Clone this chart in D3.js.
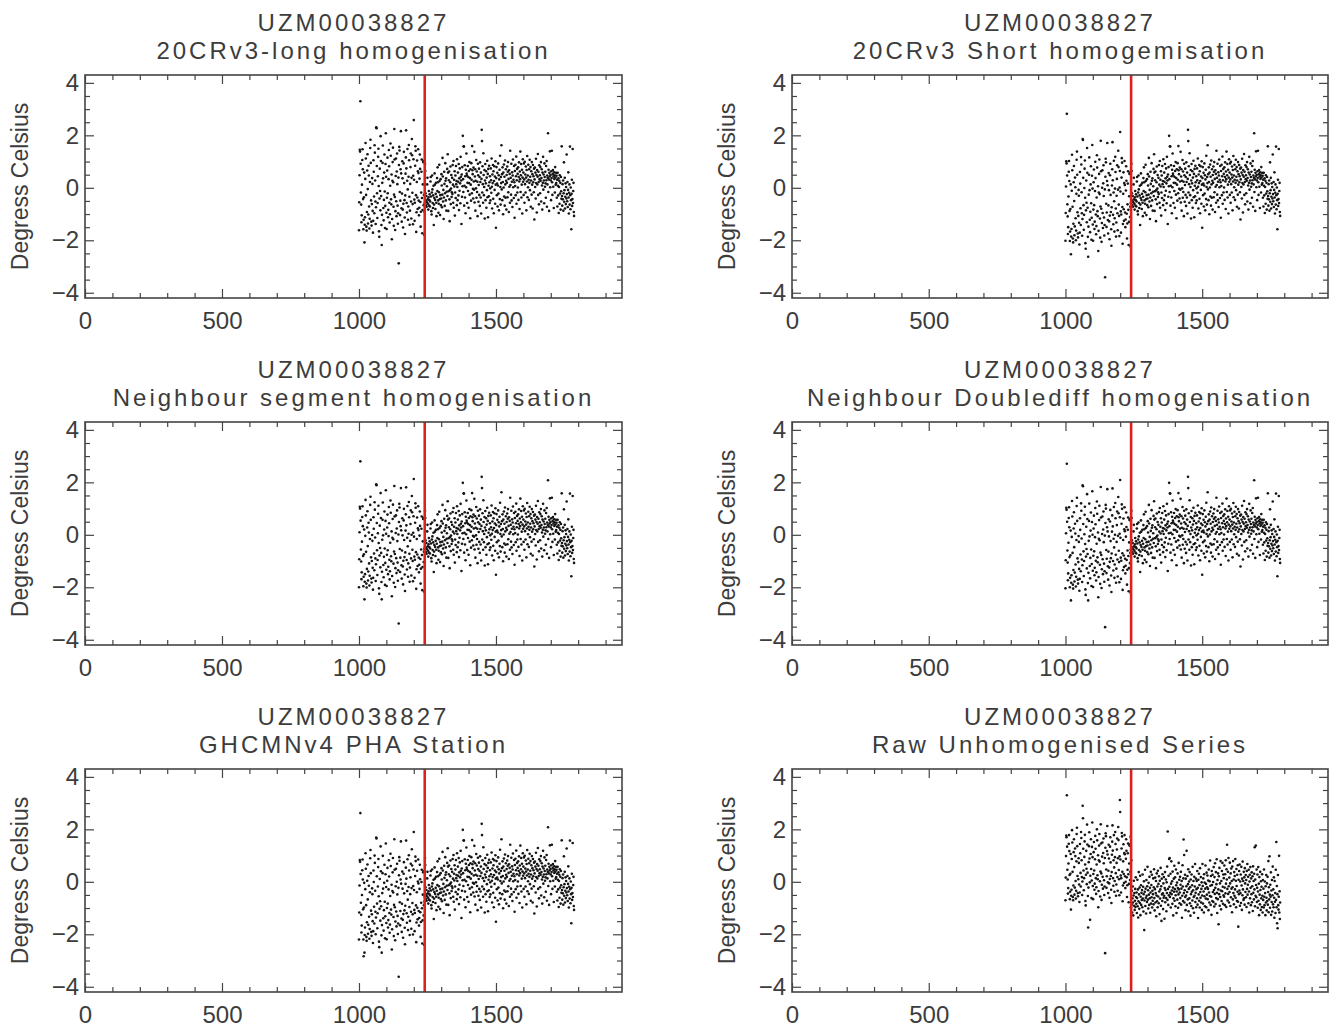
<!DOCTYPE html>
<html>
<head>
<meta charset="utf-8">
<script src="https://cdn.jsdelivr.net/npm/d3@7"></script>
<style>
  html, body { margin: 0; padding: 0; background: #fff; }
  svg text { font-family: "Liberation Sans", Arial, Helvetica, sans-serif; fill: #3c3c3c; }
</style>
</head>
<body>
<svg id="chart" width="1331" height="1029"></svg>
<script>
// Station and panel titles
const stationId = "UZM00038827";
const panelTitles = [
  "20CRv3-long homogenisation",
  "20CRv3 Short homogemisation",
  "Neighbour segment homogenisation",
  "Neighbour Doublediff homogenisation",
  "GHCMNv4 PHA Station",
  "Raw Unhomogenised Series"
];
const yAxisTitle = "Degress Celsius";

// Axis ticks
const xTickValues = [0, 500, 1000, 1500];
const xMinorStep = 100;
const yTickValues = [-4, -2, 0, 2, 4];
const yMinorStep = 0.5;

// Month index of the first value and of the detected break
const firstMonth = 1000;
const breakMonth = 1240;

// Monthly anomalies (degrees C) before the break, months 1000-1239
const longEarly = [
  -1.62,-0.55,0.48,1.45,1.38,3.30,0.92,-0.18,-0.64,-1.31,-1.05,0.12,1.06,1.47,0.71,-0.43,-1.58,-1.22,-0.36,0.58,
  -2.08,-1.41,-1.12,0.34,1.71,1.12,-0.27,-1.48,-1.63,-0.92,0.66,1.28,-0.05,-1.36,-1.02,0.84,0.47,-0.71,-1.55,-1.18,
  0.22,1.52,1.83,0.95,-0.48,-1.29,-1.44,-0.62,0.37,0.15,-0.88,-1.71,-1.26,1.05,0.61,-0.33,-0.97,1.62,1.34,0.28,
  -0.52,-1.38,-0.74,2.31,2.27,0.83,-0.21,-1.15,-0.58,0.44,1.18,1.49,0.07,-1.66,-1.87,-0.41,0.73,-0.12,-0.86,1.97,
  1.02,-0.31,-1.42,-2.18,-1.03,0.19,0.95,1.61,0.36,-0.77,-1.24,-0.46,0.58,1.27,-0.14,-1.53,-0.69,0.91,2.08,0.42,
  -0.95,-1.57,-0.38,0.66,1.15,-0.21,-1.12,-0.84,0.33,1.44,0.82,-0.57,-1.32,-1.01,0.08,1.69,1.22,-0.44,-0.63,0.51,
  -1.96,-1.19,0.27,0.98,1.53,0.21,-0.72,-1.45,-0.26,2.24,1.08,-0.35,-1.61,-0.89,0.45,1.12,-0.51,-1.08,0.62,1.31,
  0.14,-0.68,-1.37,-0.97,0.39,-2.88,0.87,1.56,1.42,-0.16,-1.04,-0.49,0.71,2.16,0.55,-0.78,-1.29,-0.22,1.01,0.36,
  -0.83,-1.51,-0.61,0.93,1.37,0.18,-0.47,-1.13,-1.76,-0.29,0.54,1.16,2.19,0.74,-0.58,-0.94,0.27,1.48,-0.06,-1.22,
  -0.71,0.42,1.63,1.05,-0.34,-1.41,-0.87,0.15,0.79,1.31,-0.52,-1.17,0.38,1.86,1.24,-0.19,-0.62,-1.39,0.46,1.09,
  2.58,0.31,-0.45,-1.26,-0.57,0.84,1.58,1.41,-0.28,-1.68,-0.93,0.22,1.04,-0.37,-0.81,0.63,1.47,0.56,-0.49,-1.05,
  -0.76,0.35,1.27,0.72,-0.54,-1.48,-0.91,-0.18,0.61,1.08,-0.39,-1.73,-0.85,0.13,0.98,1.02,-0.66,-0.27,-1.79,-0.92
];
const shortEarly = [
  -2.02,-0.96,0.05,1.01,0.93,2.82,0.47,-0.63,-1.09,-1.76,-1.50,-0.33,0.61,1.02,0.26,-0.88,-2.03,-1.67,-0.81,0.13,
  -2.53,-1.86,-1.57,-0.11,1.26,0.67,-0.72,-1.93,-2.08,-1.37,0.21,0.83,-0.50,-1.81,-1.47,0.39,0.02,-1.16,-2.00,-1.63,
  -0.23,1.07,1.38,0.50,-0.93,-1.74,-1.89,-1.07,-0.08,-0.30,-1.33,-2.16,-1.71,0.60,0.16,-0.78,-1.42,1.17,0.89,-0.17,
  -0.97,-1.83,-1.19,1.86,1.82,0.38,-0.66,-1.60,-1.03,-0.01,0.73,1.04,-0.38,-2.11,-2.32,-0.86,0.28,-0.57,-1.31,1.52,
  0.57,-0.76,-1.87,-2.63,-1.48,-0.26,0.50,1.16,-0.09,-1.22,-1.69,-0.91,0.13,0.82,-0.59,-1.98,-1.14,0.46,1.63,-0.03,
  -1.40,-2.02,-0.83,0.21,0.70,-0.66,-1.57,-1.29,-0.12,0.99,0.37,-1.02,-1.77,-1.46,-0.37,1.24,0.77,-0.89,-1.08,0.06,
  -2.41,-1.64,-0.18,0.53,1.08,-0.24,-1.17,-1.90,-0.71,1.79,0.63,-0.80,-2.06,-1.34,0.00,0.67,-0.96,-1.53,0.17,0.86,
  -0.31,-1.13,-1.82,-1.42,-0.06,-3.41,0.42,1.11,0.97,-0.61,-1.49,-0.94,0.26,1.71,0.10,-1.23,-1.74,-0.67,0.56,-0.09,
  -1.28,-1.96,-1.06,0.48,0.92,-0.27,-0.92,-1.58,-2.21,-0.74,0.09,0.71,1.74,0.29,-1.03,-1.39,-0.18,1.03,-0.51,-1.67,
  -1.16,-0.03,1.18,0.60,-0.79,-1.86,-1.32,-0.30,0.34,0.86,-0.97,-1.62,-0.07,1.41,0.79,-0.64,-1.07,-1.84,0.01,0.64,
  2.13,-0.14,-0.90,-1.71,-1.02,0.39,1.13,0.96,-0.73,-2.13,-1.38,-0.23,0.59,-0.82,-1.26,0.18,1.02,0.11,-0.94,-1.50,
  -1.21,-0.10,0.82,0.27,-0.99,-1.93,-1.36,-0.63,0.16,0.63,-0.84,-2.18,-1.30,-0.32,0.53,0.57,-1.11,-0.72,-2.24,-0.58
];
const segmentEarly = [
  -2.00,-0.93,0.10,1.07,1.00,2.80,0.54,-0.56,-1.02,-1.69,-1.43,-0.26,0.68,1.09,0.33,-0.81,-1.96,-1.60,-0.74,0.20,
  -2.46,-1.79,-1.50,-0.04,1.33,0.74,-0.65,-1.86,-2.01,-1.30,0.28,0.90,-0.43,-1.74,-1.40,0.46,0.09,-1.09,-1.93,-1.56,
  -0.16,1.14,1.45,0.57,-0.86,-1.67,-1.82,-1.00,-0.01,-0.23,-1.26,-2.09,-1.64,0.67,0.23,-0.71,-1.35,1.24,0.96,-0.10,
  -0.90,-1.76,-1.12,1.93,1.89,0.45,-0.59,-1.53,-0.96,0.06,0.80,1.11,-0.31,-2.04,-2.25,-0.79,0.35,-0.50,-1.24,1.59,
  0.64,-0.69,-1.80,-2.46,-1.41,-0.19,0.57,1.23,-0.02,-1.15,-1.62,-0.84,0.20,0.89,-0.52,-1.91,-1.07,0.53,1.70,0.04,
  -1.33,-1.95,-0.76,0.28,0.77,-0.59,-1.50,-1.22,-0.05,1.06,0.44,-0.95,-1.70,-1.39,-0.30,1.31,0.84,-0.82,-1.01,0.13,
  -2.34,-1.57,-0.11,0.60,1.15,-0.17,-1.10,-1.83,-0.64,1.86,0.70,-0.73,-1.99,-1.27,0.07,0.74,-0.89,-1.46,0.24,0.93,
  -0.24,-1.06,-1.75,-1.35,0.01,-3.38,0.49,1.18,1.04,-0.54,-1.42,-0.87,0.33,1.78,0.17,-1.16,-1.67,-0.60,0.63,-0.02,
  -1.21,-1.89,-0.99,0.55,0.99,-0.20,-0.85,-1.51,-2.14,-0.67,0.16,0.78,1.81,0.36,-0.96,-1.32,-0.11,1.10,-0.44,-1.60,
  -1.09,0.04,1.25,0.67,-0.72,-1.79,-1.25,-0.23,0.41,0.93,-0.90,-1.55,0.00,1.48,0.86,-0.57,-1.00,-1.77,0.08,0.71,
  2.13,-0.07,-0.83,-1.64,-0.95,0.46,1.20,1.03,-0.66,-2.06,-1.31,-0.16,0.66,-0.75,-1.19,0.25,1.09,0.18,-0.87,-1.43,
  -1.14,-0.03,0.89,0.34,-0.92,-1.86,-1.29,-0.56,0.23,0.70,-0.77,-2.11,-1.23,-0.25,0.60,0.64,-1.04,-0.65,-2.17,-0.51
];
const doublediffEarly = [
  -2.04,-0.97,0.06,1.03,0.96,2.71,0.50,-0.60,-1.06,-1.73,-1.47,-0.30,0.64,1.05,0.29,-0.85,-2.00,-1.64,-0.78,0.16,
  -2.50,-1.83,-1.54,-0.08,1.29,0.70,-0.69,-1.90,-2.05,-1.34,0.24,0.86,-0.47,-1.78,-1.44,0.42,0.05,-1.13,-1.97,-1.60,
  -0.20,1.10,1.41,0.53,-0.90,-1.71,-1.86,-1.04,-0.05,-0.27,-1.30,-2.13,-1.68,0.63,0.19,-0.75,-1.39,1.20,0.92,-0.14,
  -0.94,-1.80,-1.16,1.89,1.85,0.41,-0.63,-1.57,-1.00,0.02,0.76,1.07,-0.35,-2.08,-2.29,-0.83,0.31,-0.54,-1.28,1.55,
  0.60,-0.73,-1.84,-2.50,-1.45,-0.23,0.53,1.19,-0.06,-1.19,-1.66,-0.88,0.16,0.85,-0.56,-1.95,-1.11,0.49,1.66,0.00,
  -1.37,-1.99,-0.80,0.24,0.73,-0.63,-1.54,-1.26,-0.09,1.02,0.40,-0.99,-1.74,-1.43,-0.34,1.27,0.80,-0.86,-1.05,0.09,
  -2.38,-1.61,-0.15,0.56,1.11,-0.21,-1.14,-1.87,-0.68,1.82,0.66,-0.77,-2.03,-1.31,0.03,0.70,-0.93,-1.50,0.20,0.89,
  -0.28,-1.10,-1.79,-1.39,-0.03,-3.52,0.45,1.14,1.00,-0.58,-1.46,-0.91,0.29,1.74,0.13,-1.20,-1.71,-0.64,0.59,-0.06,
  -1.25,-1.93,-1.03,0.51,0.95,-0.24,-0.89,-1.55,-2.18,-0.71,0.12,0.74,1.77,0.32,-1.00,-1.36,-0.15,1.06,-0.48,-1.64,
  -1.13,0.00,1.21,0.63,-0.76,-1.83,-1.29,-0.27,0.37,0.89,-0.94,-1.59,-0.04,1.44,0.82,-0.61,-1.04,-1.81,0.04,0.67,
  2.09,-0.11,-0.87,-1.68,-0.99,0.42,1.16,0.99,-0.70,-2.10,-1.35,-0.20,0.62,-0.79,-1.23,0.21,1.05,0.14,-0.91,-1.47,
  -1.18,-0.07,0.85,0.30,-0.96,-1.90,-1.33,-0.60,0.19,0.66,-0.81,-2.15,-1.27,-0.29,0.56,0.60,-1.08,-0.69,-2.21,-0.55
];
const ghcnEarly = [
  -2.20,-1.17,-0.14,0.83,0.76,2.62,0.30,-0.80,-1.26,-1.93,-1.67,-0.50,0.44,0.85,0.09,-1.05,-2.20,-2.84,-0.98,-0.04,
  -2.70,-2.03,-1.74,-0.28,1.09,0.50,-0.89,-2.10,-2.25,-1.54,0.04,0.66,-0.67,-1.98,-1.64,0.22,-0.15,-1.33,-2.17,-1.80,
  -0.40,0.90,1.21,0.33,-1.10,-1.91,-2.06,-1.24,-0.25,-0.47,-1.50,-2.33,-1.88,0.43,-0.01,-0.95,-1.59,1.00,0.72,-0.34,
  -1.14,-2.00,-1.36,1.69,1.65,0.21,-0.83,-1.77,-1.20,-0.18,0.56,0.87,-0.55,-2.28,-2.49,-1.03,0.11,-0.74,-1.48,1.35,
  0.40,-0.93,-2.04,-2.70,-1.65,-0.43,0.33,0.99,-0.26,-1.39,-1.86,-1.08,-0.04,0.65,-0.76,-2.15,-1.31,0.29,1.46,-0.20,
  -1.57,-2.19,-1.00,0.04,0.53,-0.83,-1.74,-1.46,-0.29,0.82,0.20,-1.19,-1.94,-1.63,-0.54,1.07,0.60,-1.06,-1.25,-0.11,
  -2.58,-1.81,-0.35,0.36,0.91,-0.41,-1.34,-2.07,-0.88,1.62,0.46,-0.97,-2.23,-1.51,-0.17,0.50,-1.13,-1.70,0.00,0.69,
  -0.48,-1.30,-1.99,-1.59,-0.23,-3.62,0.25,0.94,0.80,-0.78,-1.66,-1.11,0.09,1.54,-0.07,-1.40,-1.91,-0.84,0.39,-0.26,
  -1.45,-2.13,-1.23,0.31,0.75,-0.44,-1.09,-1.75,-2.38,-0.91,-0.08,0.54,1.57,0.12,-1.20,-1.56,-0.35,0.86,-0.68,-1.84,
  -1.33,-0.20,1.01,0.43,-0.96,-2.03,-1.49,-0.47,0.17,0.69,-1.14,-1.79,-0.24,1.24,0.62,-0.81,-1.24,-2.01,-0.16,0.47,
  1.90,-0.31,-1.07,-1.88,-1.19,0.22,0.96,0.79,-0.90,-2.30,-1.55,-0.40,0.42,-0.99,-1.43,0.01,0.85,-0.06,-1.11,-1.67,
  -1.38,-0.27,0.65,0.10,-1.16,-2.10,-1.53,-0.80,-0.01,0.46,-1.01,-2.35,-1.47,-0.49,0.36,0.40,-1.28,-0.89,-2.41,-0.75
];
const rawEarly = [
  -0.70,0.16,0.98,1.76,1.70,3.30,1.34,0.46,0.09,-0.45,-0.24,0.70,1.45,1.78,1.17,0.26,-0.66,-0.38,0.31,1.06,
  -1.06,-0.53,-0.30,0.87,1.97,1.50,0.38,-0.58,-0.70,-0.14,1.13,1.62,0.56,-0.49,-0.22,1.27,0.98,0.03,-0.64,-0.34,
  0.78,1.82,2.06,1.36,0.22,-0.43,-0.55,0.10,0.90,0.72,-0.10,-0.77,-0.41,1.44,1.09,0.34,-0.18,1.90,1.67,0.82,
  0.18,-0.50,0.01,2.90,2.42,1.26,0.43,-0.32,0.14,0.95,1.54,1.79,0.66,-0.73,-0.90,0.27,1.18,0.50,-0.09,2.18,
  1.42,0.35,-0.54,-1.74,-0.22,0.75,1.36,1.89,0.89,-0.02,-1.45,0.23,1.06,1.62,0.49,-0.62,0.05,1.33,2.26,0.94,
  -0.16,-0.66,0.30,1.13,1.52,0.43,-0.30,-0.07,0.86,1.75,1.26,0.14,-0.46,-0.21,0.66,2.00,1.58,0.25,0.10,1.01,
  -0.97,-0.35,0.82,1.38,1.82,0.77,0.02,-0.56,0.39,2.19,1.46,0.32,-0.69,-0.11,0.96,1.50,0.19,-0.26,1.10,1.65,
  0.71,0.06,-0.50,-0.18,0.91,-2.72,1.30,1.85,1.74,0.47,-0.23,0.21,1.17,2.13,1.04,-0.02,-0.43,0.42,1.41,0.89,
  -0.06,-0.61,0.11,1.34,1.70,0.74,0.22,-0.30,-0.81,0.37,1.03,1.53,2.15,1.19,0.14,-0.15,0.82,1.78,0.55,-0.38,
  0.03,0.94,1.90,1.44,0.33,-0.53,-0.10,0.72,1.23,1.65,0.18,-0.34,0.90,2.09,1.59,0.45,0.10,-0.51,0.97,3.12,
  2.66,0.85,0.24,-0.41,0.14,1.27,1.86,1.73,0.38,-0.74,-0.14,0.78,1.43,0.30,-0.05,1.10,1.78,1.05,0.21,-0.24,
  0.00,0.88,1.62,1.18,0.17,-0.58,-0.13,0.46,1.09,1.46,0.29,-0.78,-0.08,0.70,1.38,1.42,0.07,0.38,1.72,-0.98
];

// Monthly anomalies (degrees C) from the break onwards, months 1240-1785.
// The five homogenised series agree after the break.
const homogenisedLate = [
  -0.58,0.92,0.64,-0.21,-0.66,-0.49,-0.31,-0.72,-0.55,0.13,0.38,-0.44,-0.61,-0.83,-0.36,-0.12,-0.68,-0.47,-0.25,-0.71,
  -0.52,0.24,0.41,-0.33,-0.89,-1.02,-0.18,0.47,-0.06,-0.58,-0.77,-0.29,0.08,-1.42,-0.64,-0.39,0.55,0.12,-0.46,-0.81,
  -0.23,0.19,-0.57,-1.08,-0.34,0.37,-0.12,0.78,0.21,-0.48,-0.95,-0.61,-0.17,0.88,0.26,-0.43,-1.04,-0.28,0.33,-0.66,
  -0.41,0.52,0.09,-0.74,-0.26,1.14,0.43,-0.52,-0.08,-1.19,-0.37,0.61,0.15,-0.69,-0.21,0.94,0.27,-0.48,0.36,-0.87,
  -0.15,0.06,0.72,-0.31,1.28,0.58,-0.88,-0.13,0.29,0.62,-0.44,-1.27,-0.09,0.21,0.81,-0.62,-0.03,0.49,-0.35,-0.17,
  0.38,-0.24,0.87,0.12,-0.57,1.02,-0.76,0.31,0.05,0.63,-1.06,-0.18,0.47,-0.39,0.83,0.14,0.26,-0.66,1.09,0.03,
  -0.47,0.58,0.23,-0.29,0.91,-0.85,0.36,-0.11,0.74,0.17,-0.59,1.18,0.42,0.28,-1.38,0.51,-0.34,0.79,0.06,1.98,
  0.33,-0.16,1.58,1.57,-0.68,0.08,0.86,-0.37,0.44,-0.97,0.69,0.02,1.31,0.54,0.47,-0.58,0.19,0.83,-0.12,0.41,
  -0.76,0.64,0.18,0.98,-0.26,0.37,-1.16,0.71,0.12,-0.49,0.94,0.31,-0.21,1.59,0.67,0.52,-0.04,-0.41,0.77,0.24,
  -0.07,1.37,-0.56,0.43,0.71,-0.87,0.27,-0.02,1.06,-0.38,0.62,-0.16,0.23,-1.08,0.92,0.48,-0.53,0.11,0.73,-0.27,
  0.41,-0.69,0.97,0.22,-0.37,0.58,-0.98,0.34,2.21,1.78,-0.18,0.82,0.14,-0.57,1.32,0.49,-0.28,0.03,0.68,-1.17,
  0.28,0.91,-0.47,0.17,0.63,-0.76,0.39,-0.09,1.03,-0.36,0.53,-1.12,0.72,0.08,-0.32,0.84,0.21,-0.58,0.44,-0.02,
  -0.48,0.74,0.29,-0.19,1.12,0.04,-0.79,0.51,0.18,0.87,-0.42,0.63,-0.97,0.26,0.82,-0.08,0.43,-0.61,1.01,0.12,
  -1.52,0.37,0.79,-0.28,0.16,0.57,-0.71,0.09,0.93,-0.22,0.48,-0.86,0.32,0.69,-0.43,1.22,0.03,-0.64,0.41,0.18,
  1.62,-0.06,0.52,-0.47,0.78,0.22,-1.01,0.58,0.01,0.89,-0.33,0.42,-0.68,1.04,0.13,-0.38,0.71,0.27,-0.83,0.49,
  0.19,0.81,-0.36,0.61,0.98,-0.17,0.34,-0.92,0.67,0.04,0.53,-0.57,1.41,0.11,0.38,-0.26,0.92,-0.48,0.23,0.59,
  -0.73,0.47,1.08,0.02,0.31,-0.39,0.83,0.21,-1.14,0.64,0.07,0.88,-0.28,0.44,1.19,-0.61,0.29,0.72,-0.18,0.53,
  0.01,0.78,-0.46,0.41,0.97,0.24,-0.81,0.62,0.33,1.38,-0.16,0.48,0.91,-0.37,0.12,0.69,-0.98,0.39,1.09,0.23,
  0.58,-0.27,0.93,0.32,-0.57,0.99,0.14,0.51,-0.18,0.81,0.39,-0.86,0.68,0.24,1.21,-0.36,0.47,0.02,0.88,0.31,
  -0.46,0.71,0.19,1.07,-0.09,0.42,0.79,-0.72,0.28,0.63,-0.26,0.98,0.12,0.52,-0.79,0.87,0.21,0.44,-0.17,0.73,
  -1.21,0.32,0.77,0.03,0.58,-0.41,1.11,0.18,0.49,-0.94,0.68,0.13,0.42,1.29,-0.27,0.61,0.22,-0.63,0.86,0.33,
  0.48,-0.21,0.79,0.27,0.98,-0.52,0.37,0.71,0.09,-0.83,0.58,0.19,1.18,-0.07,0.51,0.28,-0.59,0.93,0.41,0.04,
  0.61,0.17,-0.38,0.83,0.29,1.02,-0.72,0.47,0.13,0.38,2.08,-0.16,0.69,0.32,-0.88,0.57,0.43,1.39,0.02,0.49,
  0.28,-0.47,0.63,0.37,1.41,0.21,-0.27,0.52,0.68,0.04,0.43,-0.77,0.59,0.34,0.48,-0.18,0.79,0.39,0.12,0.57,
  0.18,0.46,-0.38,0.31,-0.71,0.57,0.08,-0.29,0.36,-0.96,0.03,0.27,-0.61,0.48,-0.22,0.19,-0.83,0.41,-0.13,-0.42,
  1.58,-0.31,-0.68,0.14,-0.44,0.28,-0.87,-0.21,0.97,-0.53,-0.09,0.38,-0.79,-0.34,0.17,-0.62,0.03,-0.41,1.27,-0.24,
  -0.51,0.22,-0.73,-0.08,0.59,-0.37,-0.98,-0.19,0.13,-0.64,1.57,-0.28,-0.82,0.01,-0.47,-1.58,-0.23,0.31,-0.69,-0.43,
  1.48,-0.58,-0.12,0.19,-0.92,-1.07
];
const rawLate = [
  -0.98,0.82,-0.87,-0.34,-1.17,-0.63,-0.18,-0.79,-1.28,-0.52,0.04,-0.91,-0.43,-1.07,-0.72,-0.27,-0.96,0.17,-0.58,-0.84,
  -0.41,-1.19,-0.62,0.08,-0.93,-0.29,-1.36,-0.74,0.37,-0.48,-1.03,-0.22,-0.81,0.23,-1.27,-0.57,-0.13,-0.88,-0.42,-0.69,
  -0.31,-0.97,0.28,-0.64,-0.19,-1.13,-0.47,0.02,-1.84,-0.71,-0.38,0.46,-0.92,-0.26,-0.61,-1.21,0.07,-0.53,-0.77,-0.17,
  0.57,-0.68,-0.32,-1.02,-0.04,-0.49,-0.88,0.19,-0.63,-0.23,-1.18,-0.41,0.38,-0.83,-0.12,-0.59,0.27,-0.98,-0.34,-0.72,
  -0.47,0.13,-0.86,-0.21,0.48,-0.62,-1.09,-0.28,0.16,-0.79,-0.43,0.03,-1.31,-0.52,0.32,-0.74,-0.18,-0.97,0.42,-0.56,
  -0.08,-0.82,0.21,-0.37,-1.23,0.04,-0.64,-0.29,0.53,-0.91,-0.17,-1.49,0.12,-0.48,-0.73,0.29,-0.44,-1.04,-0.06,-0.61,
  0.18,-0.53,-1.41,-0.24,0.37,-0.78,-0.31,0.09,-0.62,-1.12,-0.02,-0.43,0.58,-0.69,1.92,-0.27,-0.88,0.23,-0.51,0.87,
  -0.19,0.91,-0.58,-0.42,0.31,-0.98,-0.07,0.78,-0.47,-0.33,0.02,-0.84,0.39,-0.22,-1.28,-0.63,0.12,-0.38,0.61,-0.72,
  -0.28,0.17,-0.93,-0.51,0.47,-0.13,-1.19,-0.37,-0.03,-0.68,0.32,-0.24,-0.99,-0.48,0.72,-0.29,0.08,-0.82,-0.41,0.19,
  -0.62,-0.11,0.38,-0.87,-0.26,0.03,-1.37,-0.53,0.63,-0.18,-0.73,0.13,1.61,-0.43,1.02,-0.79,-0.32,0.27,-0.58,-1.08,
  0.12,-0.52,-0.17,1.18,-0.88,-0.39,0.22,-0.67,-0.09,0.48,-1.12,-0.27,0.01,-0.63,0.37,-0.82,-0.21,-1.29,0.09,-0.47,
  -0.92,0.28,-0.38,-0.13,-0.71,0.57,-1.01,-0.32,0.03,-0.58,-1.18,0.19,-0.53,-0.18,0.68,-0.77,-0.42,0.12,-0.97,-0.28,
  0.03,-0.63,0.41,-0.87,-0.23,-1.38,0.08,-0.48,0.31,-0.72,-0.12,-0.98,0.52,-0.39,-0.61,0.18,-0.79,-0.27,-0.02,-1.07,
  -0.52,0.68,-0.16,-0.83,0.13,-0.37,-1.17,0.29,-0.55,-0.03,-0.93,-0.26,0.62,-0.64,-0.08,-0.97,0.35,-0.49,-0.21,0.24,
  -0.66,-0.27,0.05,-1.08,0.47,-0.41,-0.79,0.02,-0.54,0.81,-0.15,-0.88,0.22,-0.57,-1.26,0.41,-0.12,-0.73,0.27,-0.39,
  -0.01,-0.77,0.56,-0.31,-0.94,0.18,-0.46,0.71,-0.23,-0.85,0.37,-0.62,-0.09,0.86,-0.42,-1.19,0.07,-0.66,0.32,-0.29,
  -1.62,0.21,-0.47,0.53,-0.91,-0.06,-0.58,0.79,-0.33,-1.05,0.03,-0.73,0.41,-0.36,0.72,-0.19,-0.84,0.28,-0.51,0.14,
  -0.57,0.62,-0.22,-0.89,0.29,-0.44,0.82,-0.07,-0.96,0.48,0.09,1.41,-0.27,-0.71,0.38,-0.46,0.91,-0.17,-0.79,0.16,
  -0.39,0.73,-0.06,-0.92,0.32,-0.59,0.51,-0.26,0.03,-1.16,0.58,-0.21,-0.67,0.79,-0.43,0.09,-0.86,0.37,-0.53,0.22,
  -0.29,0.87,-0.61,0.04,-0.97,0.49,-0.16,-0.73,0.27,-0.38,0.63,-0.76,-1.71,0.08,-0.47,0.41,-0.33,0.66,-0.91,0.01,
  -0.43,0.28,-0.81,0.57,-0.14,-1.07,0.12,-0.51,0.77,-0.29,0.03,-0.69,0.38,-0.63,0.17,-0.87,0.52,-0.06,-0.39,0.26,
  -0.59,0.07,-0.96,0.41,-0.27,0.68,-0.49,-0.11,0.19,-0.82,0.46,-0.37,-1.17,0.01,0.27,-0.63,0.56,-0.23,-0.89,0.13,
  -0.47,0.36,-0.78,-0.17,0.21,-1.11,0.59,-0.42,0.03,-0.67,0.31,-0.29,1.32,-0.93,0.09,-0.53,1.38,-0.12,-0.59,0.47,
  -0.77,-0.23,0.28,-0.99,-0.37,0.56,-0.72,-0.07,-1.27,0.18,-0.49,-0.86,0.38,-0.31,-1.07,0.02,-0.63,-0.19,-0.96,0.29,
  -0.53,-1.17,0.07,-0.69,-0.26,-0.98,0.47,-0.57,-0.89,0.01,-0.43,-1.27,-0.17,-0.79,0.26,-0.61,-1.09,-0.06,-0.73,0.19,
  -0.87,-0.39,0.79,-1.16,-0.21,-0.67,0.97,-0.49,-0.99,-0.11,-0.57,0.36,-1.26,-0.33,-0.77,0.07,-1.13,-0.51,0.58,-0.86,
  -0.29,-0.97,0.17,-0.61,-1.37,0.03,-0.76,-0.43,-1.19,0.46,-0.69,1.52,-0.97,-0.16,-1.58,-0.47,-1.77,0.26,-0.89,-1.06,
  -0.57,0.99,-1.17,-0.36,-1.42,-0.79
];

const panelEarly = [longEarly, shortEarly, segmentEarly, doublediffEarly, ghcnEarly, rawEarly];
const panelLate = [homogenisedLate, homogenisedLate, homogenisedLate, homogenisedLate, homogenisedLate, rawLate];

// Layout of the 3 x 2 grid of plots
const colLeft = [85, 792];
const colRight = [622, 1328];
const rowTop = [75, 422, 769];
const plotHeight = 223;

const svg = d3.select("#chart");
const axisColor = "#444";

panelTitles.forEach((title, p) => {
  const col = p % 2, row = Math.floor(p / 2);
  const x0 = colLeft[col], x1 = colRight[col];
  const y0 = rowTop[row];
  const w = x1 - x0, h = plotHeight;

  const x = d3.scaleLinear().domain([0, 1960]).range([0, w]);
  const y = d3.scaleLinear().domain([-4.2, 4.3]).range([h, 0]);

  const g = svg.append("g").attr("transform", `translate(${x0},${y0})`);

  // Two-line title: station id, then method
  const cx = x0 + w / 2;
  svg.append("text").attr("x", cx).attr("y", y0 - 44)
    .attr("text-anchor", "middle").attr("font-size", 24).attr("letter-spacing", 3)
    .text(stationId);
  svg.append("text").attr("x", cx).attr("y", y0 - 16)
    .attr("text-anchor", "middle").attr("font-size", 24).attr("letter-spacing", 3)
    .text(title);

  // Y axis title
  svg.append("text")
    .attr("transform", `translate(${x0 - 57},${y0 + h / 2}) rotate(-90)`)
    .attr("text-anchor", "middle").attr("font-size", 23)
    .text(yAxisTitle);

  // Data points
  const pts = [];
  panelEarly[p].forEach((v, i) => pts.push([firstMonth + i, v]));
  panelLate[p].forEach((v, i) => pts.push([breakMonth + i, v]));
  g.append("g").selectAll("circle").data(pts).join("circle")
    .attr("cx", d => x(d[0])).attr("cy", d => y(d[1]))
    .attr("r", 1.3).attr("fill", "#151515");

  // Break marker
  g.append("line")
    .attr("x1", x(breakMonth)).attr("x2", x(breakMonth))
    .attr("y1", 0).attr("y2", h)
    .attr("stroke", "#dd1f1f").attr("stroke-width", 2.6);

  // Axes: majors with labels, minors without, ticks pointing inward on all sides
  const xMinor = d3.range(0, 1960, xMinorStep).filter(v => !xTickValues.includes(v));
  const yMinor = d3.range(-4, 4.01, yMinorStep).filter(v => !yTickValues.includes(v));

  const styleAxis = sel => {
    sel.select(".domain").remove();
    sel.selectAll("line").attr("stroke", axisColor).attr("stroke-width", 1.2);
    sel.selectAll("text").attr("font-size", 24).attr("fill", "#3c3c3c")
      .attr("font-family", '"Liberation Sans", Arial, sans-serif');
  };

  g.append("g").attr("transform", `translate(0,${h})`)
    .call(d3.axisBottom(x).tickValues(xTickValues).tickSize(-9).tickPadding(14).tickFormat(d3.format("d")))
    .call(styleAxis);
  g.append("g").attr("transform", `translate(0,${h})`)
    .call(d3.axisBottom(x).tickValues(xMinor).tickSize(-5).tickFormat(""))
    .call(styleAxis);
  g.append("g")
    .call(d3.axisTop(x).tickValues(xTickValues).tickSize(-9).tickFormat(""))
    .call(styleAxis);
  g.append("g")
    .call(d3.axisTop(x).tickValues(xMinor).tickSize(-5).tickFormat(""))
    .call(styleAxis);

  g.append("g")
    .call(d3.axisLeft(y).tickValues(yTickValues).tickSize(-9).tickPadding(6))
    .call(styleAxis);
  g.append("g")
    .call(d3.axisLeft(y).tickValues(yMinor).tickSize(-5).tickFormat(""))
    .call(styleAxis);
  g.append("g").attr("transform", `translate(${w},0)`)
    .call(d3.axisRight(y).tickValues(yTickValues).tickSize(-9).tickFormat(""))
    .call(styleAxis);
  g.append("g").attr("transform", `translate(${w},0)`)
    .call(d3.axisRight(y).tickValues(yMinor).tickSize(-5).tickFormat(""))
    .call(styleAxis);

  // Plot frame
  g.append("rect").attr("x", 0).attr("y", 0).attr("width", w).attr("height", h)
    .attr("fill", "none").attr("stroke", axisColor).attr("stroke-width", 1.6);
});
</script>
</body>
</html>
